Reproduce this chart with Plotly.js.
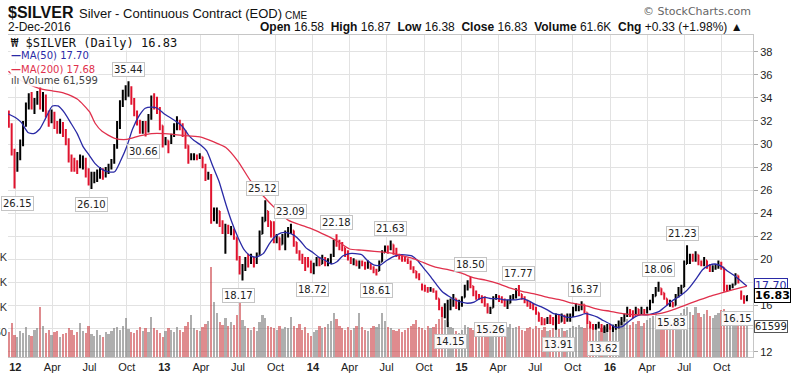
<!DOCTYPE html>
<html><head><meta charset="utf-8">
<script src="https://cdn.plot.ly/plotly-3.0.1.min.js"></script>
<style>html,body{margin:0;padding:0;background:#fff;}#chart{width:800px;height:375px;}</style>
</head><body><div id="chart"></div>
<script>
// weekly bars, first bar week ending 2011-12-16, one bar per week to 2016-12-02
const firstWeek = '2011-12-16';
const opens = [32.6,31.6,29.3,28.2,28.9,30.1,31.7,33.3,34.0,33.3,
33.6,34.4,33.5,34.1,32.6,32.2,32.6,31.6,31.3,31.8,
31.0,30.2,28.7,28.4,28.3,28.0,28.5,28.6,27.5,26.9,
27.1,27.2,27.4,27.6,27.3,27.8,28.1,28.5,29.8,31.6,
33.5,34.4,34.5,34.8,33.7,32.7,31.9,31.2,31.6,31.2,
32.3,33.6,33.5,32.9,31.6,30.0,30.3,30.1,30.7,31.5,
32.0,31.6,30.9,29.9,28.7,28.9,29.0,28.8,28.9,28.1,
27.0,27.3,23.6,24.1,24.2,23.2,22.4,22.7,22.5,22.6,
21.9,20.2,19.2,19.4,19.8,19.7,20.1,19.8,20.4,22.2,
23.3,24.2,23.3,22.4,21.8,21.9,21.3,21.8,22.2,22.4,
22.5,21.5,20.7,20.2,19.8,19.6,19.5,19.3,19.5,19.9,
19.6,20.1,19.7,19.9,20.3,21.5,21.4,21.3,21.0,20.4,
20.0,19.8,19.9,19.6,19.7,19.5,19.4,19.6,19.3,19.0,
19.0,19.8,20.6,21.0,20.9,21.3,20.6,20.4,20.2,20.1,
19.9,19.7,19.2,19.0,18.5,17.8,17.5,17.4,17.3,17.4,
17.2,16.6,15.8,15.3,15.6,16.1,16.2,16.6,15.9,16.2,
16.7,17.6,18.0,17.7,17.2,16.8,16.8,16.4,16.1,15.5,
15.8,16.6,16.7,16.5,16.4,16.0,16.2,16.7,16.8,17.3,
17.0,16.7,16.4,16.1,15.9,15.8,15.4,14.8,14.7,14.6,
14.8,14.7,14.5,15.0,14.6,15.1,14.7,15.0,15.1,15.7,
15.8,15.9,16.1,15.4,14.6,14.2,14.1,14.2,14.3,13.9,
14.0,14.1,14.0,14.1,14.2,14.5,14.8,15.1,15.6,15.3,
15.2,15.7,15.4,15.6,15.4,15.7,16.3,16.8,17.4,17.5,
17.1,16.6,16.2,16.3,16.0,16.8,17.3,17.6,19.6,19.8,
20.2,19.9,20.4,19.7,19.6,19.9,19.5,19.1,19.3,19.4,
19.7,19.3,17.5,17.5,17.6,17.8,18.6,17.2,16.7,16.58];
const highs = [32.9,31.8,29.6,29.3,30.4,32.0,33.6,34.4,34.5,34.0,
34.6,34.9,34.5,34.3,32.9,33.0,32.8,32.0,32.2,31.9,
31.3,30.5,29.1,28.8,28.6,29.1,29.0,28.8,27.9,27.6,
27.6,27.8,28.0,27.9,28.0,28.3,28.7,30.0,32.0,33.8,
34.7,35.1,35.44,35.0,34.0,32.9,32.1,32.0,32.0,32.6,
34.2,34.4,34.1,33.2,31.6,30.6,30.3,30.9,31.8,32.4,
32.1,31.8,31.2,29.9,29.2,29.2,29.1,29.2,28.9,28.3,
27.6,27.4,24.5,24.5,24.2,23.4,23.1,23.0,22.9,22.6,
21.9,20.3,19.6,20.2,20.5,20.5,20.2,20.6,22.5,23.7,
25.12,24.2,23.3,23.3,22.2,21.9,22.2,22.5,22.8,23.09,
22.5,21.5,20.8,20.5,20.2,20.2,19.9,19.7,20.2,20.2,
20.4,20.2,20.1,20.5,21.7,22.18,21.7,21.5,21.0,20.8,
20.2,20.1,19.9,19.9,19.9,19.8,19.9,19.6,19.4,19.2,
19.9,20.8,21.2,21.2,21.63,21.3,21.0,20.5,20.4,20.2,
20.1,19.9,19.4,19.0,18.8,17.9,17.8,17.6,17.6,17.5,
17.3,16.6,15.9,16.2,16.5,16.6,17.0,16.6,16.5,16.8,
17.8,18.2,18.50,17.7,17.3,17.0,16.9,16.8,16.2,15.9,
16.8,17.0,16.9,16.8,16.6,16.5,16.9,17.0,17.5,17.77,
17.0,16.8,16.5,16.3,16.2,15.9,15.4,15.0,14.9,15.0,
15.2,15.0,15.3,15.2,15.3,15.2,15.3,15.3,15.9,16.2,
16.0,16.37,16.1,15.4,14.6,14.4,14.4,14.6,14.4,14.3,
14.4,14.4,14.3,14.4,14.7,15.0,15.3,15.9,15.7,15.6,
15.9,15.7,15.9,15.7,15.9,16.5,17.0,17.6,18.06,17.5,
17.1,16.6,16.5,16.3,17.0,17.6,17.8,19.9,21.23,20.5,
20.5,20.7,20.4,19.9,20.2,19.9,19.6,19.5,19.6,19.9,
19.8,19.3,17.8,17.8,17.9,18.8,18.6,17.3,16.9,16.87];
const lows = [31.4,29.0,26.15,27.6,28.6,29.8,31.5,33.0,33.0,32.6,
33.4,33.0,32.8,32.3,31.5,31.8,31.3,30.9,30.9,30.6,
29.9,28.4,27.6,27.6,27.4,27.9,27.8,27.1,26.4,26.10,
26.6,26.7,27.0,26.9,27.1,27.4,27.8,28.3,29.6,31.3,
33.2,33.8,34.1,33.4,32.4,31.6,30.9,30.9,30.66,31.0,
32.1,33.0,32.6,31.2,29.7,29.9,29.2,30.0,30.6,31.2,
31.2,30.6,29.6,28.3,28.6,28.6,28.6,28.7,27.9,26.8,
26.9,23.1,23.3,23.1,22.8,22.2,20.5,22.2,22.1,21.7,
19.9,18.7,18.17,19.0,19.3,19.6,19.3,19.6,20.4,22.2,
23.3,22.8,21.9,21.4,21.4,20.8,21.3,20.8,21.9,22.2,
21.1,20.5,19.9,19.6,19.0,19.3,18.8,18.72,19.4,19.4,
19.6,19.4,19.4,19.6,20.2,21.1,20.8,20.7,20.2,19.9,
19.6,19.5,19.4,19.2,19.4,19.1,19.2,19.1,18.8,18.61,
19.0,19.8,20.6,20.5,20.8,20.4,20.2,20.0,19.8,19.8,
19.6,19.1,18.8,18.35,18.2,17.3,17.2,17.1,17.2,17.1,
16.5,15.6,15.0,14.9,14.15,15.6,15.9,15.7,15.6,15.9,
16.7,17.3,17.5,16.8,16.5,16.5,16.2,15.9,15.3,15.26,
15.8,16.5,16.3,16.2,15.9,15.7,16.2,16.5,16.6,16.8,
16.5,16.2,15.9,15.7,15.6,15.2,14.6,14.3,14.3,14.4,
14.4,14.3,13.91,14.4,14.6,14.4,14.6,14.6,15.0,15.5,
15.5,15.6,15.3,14.4,14.0,13.9,13.9,14.0,13.7,13.62,
13.7,13.9,13.7,13.9,14.0,14.3,14.6,15.0,15.0,14.9,
15.2,15.2,15.2,15.2,15.3,15.6,16.2,16.8,17.2,16.9,
16.5,16.0,15.9,15.83,16.0,16.7,17.0,17.6,19.6,19.6,
19.8,19.8,19.5,19.4,19.4,19.2,18.9,18.9,19.1,19.2,
19.1,17.2,17.2,17.3,17.5,17.8,17.9,16.5,16.15,16.38];
const closes = [31.6,29.3,28.2,28.9,30.1,31.7,33.3,34.0,33.3,33.6,
34.4,33.5,34.1,32.6,32.2,32.6,31.6,31.3,31.8,31.0,
30.2,28.7,28.4,28.3,28.0,28.5,28.6,27.5,26.9,27.1,
27.2,27.4,27.6,27.3,27.8,28.1,28.5,29.8,31.6,33.5,
34.4,34.5,34.8,33.7,32.7,31.9,31.2,31.6,31.2,32.3,
33.6,33.5,32.9,31.6,30.0,30.3,30.1,30.7,31.5,32.0,
31.6,30.9,29.9,28.7,28.9,29.0,28.8,28.9,28.1,27.0,
27.3,23.6,24.1,24.2,23.2,22.4,22.7,22.5,22.6,21.9,
20.2,19.2,19.4,19.8,19.7,20.1,19.8,20.4,22.2,23.3,
24.2,23.3,22.4,21.8,21.9,21.3,21.8,22.2,22.4,22.5,
21.5,20.7,20.2,19.8,19.6,19.5,19.3,19.5,19.9,19.6,
20.1,19.7,19.9,20.3,21.5,21.4,21.3,21.0,20.4,20.0,
19.8,19.9,19.6,19.7,19.5,19.4,19.6,19.3,19.0,19.0,
19.8,20.6,21.0,20.9,21.3,20.6,20.4,20.2,20.1,19.9,
19.7,19.2,19.0,18.5,18.4,17.5,17.4,17.3,17.4,17.2,
16.6,15.8,15.3,15.6,16.1,16.2,16.6,15.9,16.2,16.7,
17.6,18.0,17.7,17.2,16.8,16.8,16.4,16.1,15.5,15.8,
16.6,16.7,16.5,16.4,16.0,16.2,16.7,16.8,17.3,17.0,
16.7,16.4,16.1,15.9,15.8,15.4,14.8,14.7,14.6,14.8,
14.7,14.5,15.0,14.6,15.1,14.7,15.0,15.1,15.7,15.8,
15.9,16.1,15.4,14.6,14.2,14.1,14.2,14.3,13.9,14.0,
14.1,14.0,14.1,14.2,14.5,14.8,15.1,15.6,15.3,15.2,
15.7,15.4,15.6,15.4,15.7,16.3,16.8,17.4,17.5,17.1,
16.6,16.2,16.3,16.0,16.8,17.3,17.6,19.6,19.8,20.2,
19.9,20.4,19.7,19.6,19.9,19.5,19.1,19.3,19.4,19.7,
19.3,17.5,17.5,17.6,17.8,18.6,18.0,16.7,16.5,16.83];
// volume in thousands of contracts
const volumes = [50,68,45,40,52,48,60,45,42,55,
58,100,62,48,55,45,50,52,40,46,
48,58,55,45,50,68,52,48,62,46,
42,55,45,40,50,46,52,58,60,55,
62,78,56,50,48,55,60,52,58,50,
80,58,55,48,40,52,58,55,50,60,
55,50,62,70,84,58,55,52,60,66,
72,180,110,88,70,65,78,62,70,64,
85,108,75,62,58,55,60,52,70,84,
78,62,60,58,55,62,56,60,58,80,
62,58,66,55,60,48,42,50,55,62,
58,60,66,72,88,76,62,58,55,60,
54,58,62,88,60,55,52,58,62,60,
66,88,72,60,58,55,52,56,50,55,
58,62,66,74,60,58,55,62,58,60,
66,76,80,74,70,60,58,52,48,55,
64,60,58,55,52,60,58,56,62,66,
58,55,60,52,56,60,66,58,60,62,
55,52,58,60,56,62,58,55,60,52,
55,58,62,56,58,52,55,58,62,60,
64,60,58,66,62,56,54,52,58,60,
56,60,66,62,58,70,72,76,64,70,
66,72,62,68,74,78,82,88,80,72,
70,66,74,68,76,80,88,96,100,90,
84,100,88,80,86,94,82,78,84,88,
94,96,80,76,72,90,84,70,66,62];

const ma50Dates = ['2011-12-15','2012-01-01','2012-01-15','2012-02-01','2012-02-15','2012-03-01','2012-03-15','2012-04-01','2012-04-15','2012-05-01','2012-05-15','2012-06-01','2012-06-15','2012-07-01','2012-07-15','2012-08-01','2012-08-15','2012-09-01','2012-09-15','2012-10-01','2012-10-15','2012-11-01','2012-11-15','2012-12-01','2012-12-15',
'2013-01-01','2013-01-15','2013-02-01','2013-02-15','2013-03-01','2013-03-15','2013-04-01','2013-04-15','2013-05-01','2013-05-15','2013-06-01','2013-06-15','2013-07-01','2013-07-15','2013-08-01','2013-08-15','2013-09-01','2013-09-15','2013-10-01','2013-10-15','2013-11-01','2013-11-15','2013-12-01','2013-12-15',
'2014-01-01','2014-01-15','2014-02-01','2014-02-15','2014-03-01','2014-03-15','2014-04-01','2014-04-15','2014-05-01','2014-05-15','2014-06-01','2014-06-15','2014-07-01','2014-07-15','2014-08-01','2014-08-15','2014-09-01','2014-09-15','2014-10-01','2014-10-15','2014-11-01','2014-11-15','2014-12-01','2014-12-15',
'2015-01-01','2015-01-15','2015-02-01','2015-02-15','2015-03-01','2015-03-15','2015-04-01','2015-04-15','2015-05-01','2015-05-15','2015-06-01','2015-06-15','2015-07-01','2015-07-15','2015-08-01','2015-08-15','2015-09-01','2015-09-15','2015-10-01','2015-10-15','2015-11-01','2015-11-15','2015-12-01','2015-12-15',
'2016-01-01','2016-01-15','2016-02-01','2016-02-15','2016-03-01','2016-03-15','2016-04-01','2016-04-15','2016-05-01','2016-05-15','2016-06-01','2016-06-15','2016-07-01','2016-07-15','2016-08-01','2016-08-15','2016-09-01','2016-09-15','2016-10-01','2016-10-15','2016-11-01','2016-11-15','2016-12-02'];
const ma50 = [32.6,32.3,31.9,31.0,30.9,31.3,32.2,33.3,33.3,32.7,31.9,30.9,29.8,29.0,28.3,27.8,27.6,27.6,28.5,29.8,31.3,32.5,33.1,33.2,33.1,
32.6,32.3,31.9,31.5,30.8,30.3,29.9,29.4,28.0,26.8,24.8,23.3,21.9,20.9,20.3,20.2,20.5,21.3,22.0,22.3,22.3,22.1,21.6,21.0,
20.6,20.2,19.9,19.6,19.8,20.3,20.5,20.5,20.4,19.9,19.5,19.5,19.9,20.2,20.4,20.4,20.3,19.9,19.2,18.6,17.8,17.2,16.8,16.5,
16.3,16.2,16.3,16.6,16.7,16.6,16.6,16.5,16.5,16.5,16.6,16.4,16.1,15.9,15.6,15.3,15.2,15.0,15.0,15.1,15.3,15.2,15.0,14.7,
14.4,14.1,14.2,14.6,15.0,15.2,15.2,15.3,15.5,15.9,16.4,16.7,17.1,17.6,18.4,19.1,19.5,19.6,19.4,19.0,18.6,18.2,17.70];

const ma200Dates = ['2011-12-15','2012-01-01','2012-02-01','2012-03-01','2012-04-01','2012-05-01','2012-06-01','2012-07-01','2012-07-15','2012-08-01','2012-09-01','2012-10-01','2012-11-01','2012-12-01',
'2013-01-01','2013-02-01','2013-03-01','2013-04-01','2013-05-01','2013-06-01','2013-07-01','2013-08-01','2013-09-01','2013-10-01','2013-11-01','2013-12-01',
'2014-01-01','2014-02-01','2014-03-01','2014-04-01','2014-05-01','2014-06-01','2014-07-01','2014-08-01','2014-09-01','2014-10-01','2014-11-01','2014-12-01',
'2015-01-01','2015-02-01','2015-03-01','2015-04-01','2015-05-01','2015-06-01','2015-07-01','2015-08-01','2015-09-01','2015-10-01','2015-11-01','2015-12-01',
'2016-01-01','2016-02-01','2016-03-01','2016-04-01','2016-05-01','2016-06-01','2016-07-01','2016-08-01','2016-09-01','2016-10-01','2016-11-01','2016-12-02'];
const ma200 = [36.3,35.8,35.2,34.8,34.6,34.4,33.9,32.8,31.8,31.1,30.5,30.4,30.7,30.9,
30.9,30.8,30.7,30.6,30.2,29.7,28.5,26.8,25.5,24.4,23.4,23.0,
22.6,22.1,21.6,20.9,20.8,20.7,20.6,20.4,20.1,19.7,19.3,19.1,
18.8,18.4,18.2,17.9,17.5,17.2,17.0,16.7,16.5,16.2,16.0,15.7,
15.5,15.3,15.2,15.2,15.3,15.6,16.0,16.4,16.8,17.1,17.4,17.68];

// labelled highs (+1) and lows (-1)
const markDates = ['2012-10-04','2012-01-07','2012-07-06','2012-11-10','2013-08-31','2013-11-06','2013-07-01','2014-01-01','2014-03-01','2014-06-05','2014-07-10','2014-12-04','2015-01-22','2015-03-12','2015-05-20','2015-08-26','2015-10-31','2015-12-15','2016-04-28','2016-06-01','2016-06-28','2016-11-08'];
const markValues = [35.44,26.15,26.10,30.66,25.12,23.09,18.17,18.72,22.18,18.61,21.63,14.15,18.50,15.26,17.77,13.91,16.37,13.62,18.06,15.83,21.23,16.15];
const markSide = [1,-1,-1,-1,1,1,-1,-1,1,-1,1,-1,1,-1,1,-1,1,-1,1,-1,1,-1];

const tickDates = ['2012-01-01','2012-04-01','2012-07-01','2012-10-01','2013-01-01','2013-04-01','2013-07-01','2013-10-01','2014-01-01','2014-04-01','2014-07-01','2014-10-01','2015-01-01','2015-04-01','2015-07-01','2015-10-01','2016-01-01','2016-04-01','2016-07-01','2016-10-01'];
const tickText = ['<b>12</b>','Apr','Jul','Oct','<b>13</b>','Apr','Jul','Oct','<b>14</b>','Apr','Jul','Oct','<b>15</b>','Apr','Jul','Oct','<b>16</b>','Apr','Jul','Oct'];
const priceTicks = [12,14,16,18,20,22,24,26,28,30,32,34,36,38];
const volTicks = [50,100,150,200];
const volTickText = ['50','100K','150K','200K'];

const lastClose = 16.83, lastMA50 = 17.70, lastMA200 = 17.68, lastVolume = 61599;

// ---- build ----
const DAY = 86400000;
const t0 = Date.parse(firstWeek + 'T00:00:00Z');
const dates = closes.map((_, i) => new Date(t0 + i * 7 * DAY).toISOString().slice(0, 10));
const volColors = closes.map((c, i) => c >= opens[i] ? 'rgba(120,120,120,0.6)' : 'rgba(200,55,60,0.58)');

const traces = [
  {type:'bar', x:dates, y:volumes, width:5.5*DAY, marker:{color:volColors, line:{width:0}}, xaxis:'x', yaxis:'y', hoverinfo:'skip'},
  {type:'ohlc', x:dates, open:opens, high:highs, low:lows, close:closes, xaxis:'x', yaxis:'y2',
   increasing:{line:{color:'#000000', width:2}}, decreasing:{line:{color:'#e0132e', width:2}}, tickwidth:0.35},
  {type:'scatter', mode:'lines', x:ma50Dates, y:ma50, xaxis:'x', yaxis:'y2', line:{color:'#2a2aa6', width:1.3, shape:'spline', smoothing:0.6}},
  {type:'scatter', mode:'lines', x:ma200Dates, y:ma200, xaxis:'x', yaxis:'y2', line:{color:'#e0304c', width:1.3, shape:'spline', smoothing:0.6}}
];

const PX = px => (px - 8) / 745;           // header/legend helpers (paper coords)
const PY = py => 1 + (35 - py) / 322;
const ann = [];
// price labels
markValues.forEach((v, i) => {
  ann.push({x:markDates[i], y:v, xref:'x', yref:'y2', text:v.toFixed(2), showarrow:false,
    yshift: markSide[i] > 0 ? 12 : -15, font:{family:'DejaVu Sans', size:10, color:'#222'},
    bgcolor:'rgba(255,255,255,0.92)', bordercolor:'#c4c4c4', borderwidth:1, borderpad:1});
});
// right tags
ann.push({xref:'paper', x:1, xanchor:'left', xshift:1, yref:'y2', y:lastMA50, text:lastMA50.toFixed(2), showarrow:false,
  font:{family:'DejaVu Sans', size:11, color:'#2a2aa6'}, bgcolor:'#fff', bordercolor:'#2a2aa6', borderwidth:1, borderpad:0});
ann.push({xref:'paper', x:1, xanchor:'left', xshift:1, yref:'y2', y:lastClose, text:'<b>'+lastClose.toFixed(2)+'</b>', showarrow:false,
  font:{family:'DejaVu Sans', size:11, color:'#000'}, bgcolor:'#fff', bordercolor:'#000', borderwidth:1, borderpad:0});
ann.push({xref:'paper', x:1, xanchor:'left', xshift:1, yref:'y', y:lastVolume/1000, text:String(lastVolume), showarrow:false,
  font:{family:'DejaVu Sans', size:10, color:'#222'}, bgcolor:'#fff', bordercolor:'#555', borderwidth:1, borderpad:0});
// header
ann.push({xref:'paper', yref:'paper', x:PX(6), y:PY(13), xanchor:'left', yanchor:'middle', showarrow:false,
  text:'<b>$SILVER</b>', font:{family:'Liberation Sans, Arial', size:16, color:'#111'}});
ann.push({xref:'paper', yref:'paper', x:PX(77), y:PY(14), xanchor:'left', yanchor:'middle', showarrow:false,
  text:'Silver - Continuous Contract (EOD)', font:{family:'Liberation Sans, Arial', size:13, color:'#111'}});
ann.push({xref:'paper', yref:'paper', x:PX(283), y:PY(15), xanchor:'left', yanchor:'middle', showarrow:false,
  text:'CME', font:{family:'Liberation Sans, Arial', size:10, color:'#111'}});
ann.push({xref:'paper', yref:'paper', x:PX(6), y:PY(27), xanchor:'left', yanchor:'middle', showarrow:false,
  text:'2-Dec-2016', font:{family:'Liberation Sans, Arial', size:12, color:'#111'}});
ann.push({xref:'paper', yref:'paper', x:PX(745), y:PY(27), xanchor:'right', yanchor:'middle', showarrow:false,
  text:'<b>Open</b> 16.58  <b>High</b> 16.87  <b>Low</b> 16.38  <b>Close</b> 16.83  <b>Volume</b> 61.6K  <b>Chg</b> +0.33 (+1.98%) ▲',
  font:{family:'Liberation Sans, Arial', size:12, color:'#111'}});
ann.push({xref:'paper', yref:'paper', x:PX(753), y:PY(11), xanchor:'right', yanchor:'middle', showarrow:false,
  text:'© StockCharts.com', font:{family:'DejaVu Sans', size:11, color:'#666'}});
// legend block
ann.push({xref:'paper', yref:'paper', x:PX(10), y:PY(43), xanchor:'left', yanchor:'middle', showarrow:false,
  text:'₩ $SILVER (Daily) 16.83', font:{family:'DejaVu Sans Mono', size:12, color:'#111'}, bgcolor:'rgba(255,255,255,0.9)', borderpad:0});
ann.push({xref:'paper', yref:'paper', x:PX(10), y:PY(56), xanchor:'left', yanchor:'middle', showarrow:false,
  text:'<b>—</b>MA(50) 17.70', font:{family:'DejaVu Sans', size:10, color:'#2a2aa6'}, bgcolor:'rgba(255,255,255,0.9)', borderpad:0});
ann.push({xref:'paper', yref:'paper', x:PX(10), y:PY(69), xanchor:'left', yanchor:'middle', showarrow:false,
  text:'<b>—</b>MA(200) 17.68', font:{family:'DejaVu Sans', size:10, color:'#e0304c'}, bgcolor:'rgba(255,255,255,0.9)', borderpad:0});
ann.push({xref:'paper', yref:'paper', x:PX(10), y:PY(81), xanchor:'left', yanchor:'middle', showarrow:false,
  text:'ılı Volume 61,599', font:{family:'DejaVu Sans', size:10, color:'#444'}, bgcolor:'rgba(255,255,255,0.9)', borderpad:0});

const layout = {
  width:800, height:375, margin:{l:8, r:47, t:35, b:18},
  paper_bgcolor:'#fff', plot_bgcolor:'#fff', showlegend:false, bargap:0, dragmode:false,
  xaxis:{type:'date', range:['2011-12-14','2016-12-17'], tickmode:'array', tickvals:tickDates, ticktext:tickText,
    showgrid:true, gridcolor:'#e2e2e2', gridwidth:1, ticks:'', tickfont:{family:'Liberation Sans, Arial', size:11, color:'#222'},
    showline:true, linecolor:'#c6c6c6', mirror:true, zeroline:false, rangeslider:{visible:false}},
  yaxis:{range:[0,646], side:'left', tickmode:'array', tickvals:volTicks, ticktext:volTickText, showgrid:false, zeroline:false,
    ticks:'', tickfont:{family:'Liberation Sans, Arial', size:11, color:'#333'}, showline:false},
  yaxis2:{overlaying:'y', side:'right', range:[11.54,39.45], tickmode:'array', tickvals:priceTicks, showgrid:true, gridcolor:'#e2e2e2',
    zeroline:false, ticks:'outside', ticklen:4, tickcolor:'#aaa', tickfont:{family:'Liberation Sans, Arial', size:11, color:'#222'},
    showline:true, linecolor:'#c6c6c6'},
  annotations:ann
};
Plotly.newPlot('chart', traces, layout, {staticPlot:true, displayModeBar:false});
</script></body></html>
